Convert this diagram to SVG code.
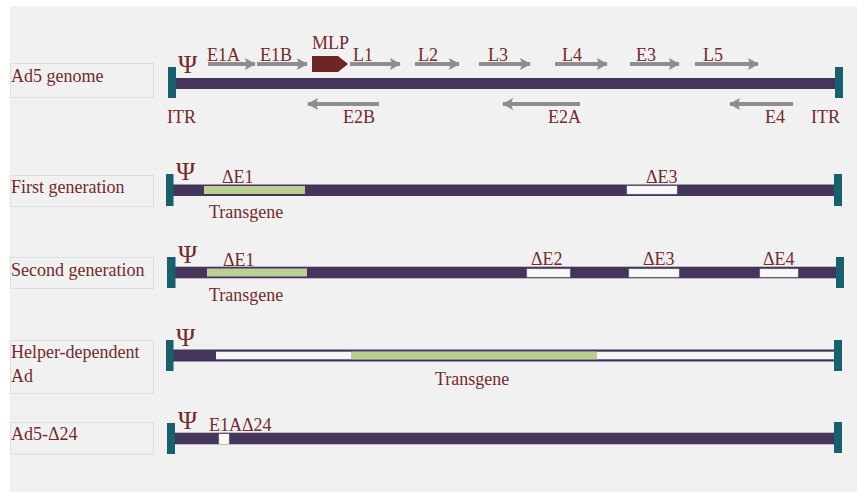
<svg xmlns="http://www.w3.org/2000/svg" width="857" height="492" viewBox="0 0 857 492">
<style>
text{font-family:"Liberation Serif","Times New Roman",serif;font-size:18px;fill:#742a2b}
.psi{font-size:26px}
.lbl{fill:#f1f1f1;stroke:#dedede;stroke-width:1}
.itr{fill:#17606e}
.dna{fill:#45355a}
.tg{fill:#bacf93}
.del{fill:#f8f8f8;stroke:#d8d8d8;stroke-width:0.5}
.arr{stroke:#8e8e8e;stroke-width:4;fill:none;marker-end:url(#ah)}
</style>
<defs>
<marker id="ah" markerUnits="userSpaceOnUse" markerWidth="11" markerHeight="12" viewBox="0 0 11 12" refX="10" refY="6" orient="auto">
<path d="M0,0 L11,6 L0,12 L2,6 z" fill="#8e8e8e"/>
</marker>
</defs>
<rect x="0" y="0" width="857" height="492" fill="#ffffff"/>
<rect x="10" y="6" width="847" height="486" fill="#f1f1f1"/>

<g id="ad5-genome">
<rect class="lbl" x="10.5" y="63.5" width="143" height="34"/>
<text x="11" y="82">Ad5 genome</text>
<rect class="dna" x="175" y="78" width="661" height="11"/>
<rect class="itr" x="168" y="67" width="8" height="31"/>
<rect class="itr" x="835" y="67" width="8" height="31"/>
<text class="psi" x="178" y="73">Ψ</text>
<text x="167" y="123">ITR</text>
<text x="811" y="123">ITR</text>
<polygon points="312,56 338,56 348,64 338,72 312,72" fill="#6d2525"/>
<text x="312" y="49">MLP</text>
<text x="207" y="61">E1A</text>
<text x="260" y="61">E1B</text>
<text x="353" y="61">L1</text>
<text x="418" y="61">L2</text>
<text x="488" y="61">L3</text>
<text x="562" y="61">L4</text>
<text x="636" y="61">E3</text>
<text x="703" y="61">L5</text>
<text x="343" y="123">E2B</text>
<text x="548" y="123">E2A</text>
<text x="765" y="123">E4</text>
</g>

<g id="connectors">
<line class="arr" x1="208" y1="64" x2="255" y2="64"/>
<line class="arr" x1="257" y1="64" x2="307" y2="64"/>
<line class="arr" x1="350" y1="64" x2="400" y2="64"/>
<line class="arr" x1="415" y1="64" x2="459" y2="64"/>
<line class="arr" x1="479" y1="64" x2="530" y2="64"/>
<line class="arr" x1="555" y1="64" x2="607" y2="64"/>
<line class="arr" x1="630" y1="64" x2="679" y2="64"/>
<line class="arr" x1="695" y1="64" x2="758" y2="64"/>
<line class="arr" x1="379" y1="104" x2="308" y2="104"/>
<line class="arr" x1="580" y1="104" x2="503" y2="104"/>
<line class="arr" x1="793" y1="104" x2="730" y2="104"/>
</g>

<g id="first-generation">
<rect class="lbl" x="10.5" y="175.5" width="143" height="31"/>
<text x="11" y="193">First generation</text>
<rect class="dna" x="172" y="184.5" width="664" height="11.5"/>
<rect class="itr" x="166" y="174" width="7.5" height="32"/>
<rect class="itr" x="834" y="174" width="8" height="32"/>
<text class="psi" x="176" y="180">Ψ</text>
<rect class="tg" x="204" y="186" width="101" height="8"/>
<text x="222" y="183">ΔE1</text>
<text x="209" y="218">Transgene</text>
<rect class="del" x="627" y="186" width="50" height="8"/>
<text x="646" y="183">ΔE3</text>
</g>

<g id="second-generation">
<rect class="lbl" x="10.5" y="257.5" width="143" height="31"/>
<text x="11" y="276">Second generation</text>
<rect class="dna" x="174" y="266.7" width="663" height="11.6"/>
<rect class="itr" x="167" y="257" width="8.5" height="31"/>
<rect class="itr" x="836" y="257" width="8" height="31"/>
<text class="psi" x="178" y="263">Ψ</text>
<rect class="tg" x="207" y="268.5" width="100" height="8"/>
<text x="223" y="265.5">ΔE1</text>
<text x="209" y="301">Transgene</text>
<rect class="del" x="527" y="269" width="43" height="8"/>
<text x="531" y="265">ΔE2</text>
<rect class="del" x="629" y="269" width="50" height="8"/>
<text x="643" y="265">ΔE3</text>
<rect class="del" x="760" y="269" width="38" height="8"/>
<text x="763" y="265">ΔE4</text>
</g>

<g id="helper-dependent-ad">
<rect class="lbl" x="10.5" y="340.5" width="143" height="53"/>
<text x="11" y="358">Helper-dependent</text>
<text x="11" y="382">Ad</text>
<rect class="dna" x="172" y="349.5" width="663" height="12"/>
<rect x="216" y="351.7" width="619" height="7.6" fill="#f6f6f6"/>
<rect class="tg" x="351" y="351.7" width="246" height="7.6"/>
<rect class="itr" x="166" y="340" width="7.5" height="31"/>
<rect class="itr" x="834" y="340" width="8" height="31"/>
<text class="psi" x="176" y="346">Ψ</text>
<text x="435" y="385">Transgene</text>
</g>

<g id="ad5-delta24">
<rect class="lbl" x="10.5" y="422.5" width="143" height="31.5"/>
<text x="11" y="440">Ad5-Δ24</text>
<rect class="dna" x="174" y="432.7" width="661" height="11.6"/>
<rect class="itr" x="167" y="423" width="8" height="31"/>
<rect class="itr" x="834" y="422" width="8" height="31"/>
<text class="psi" x="178" y="429">Ψ</text>
<rect class="del" x="219" y="434" width="10" height="10"/>
<text x="209" y="431">E1AΔ24</text>
</g>
</svg>
